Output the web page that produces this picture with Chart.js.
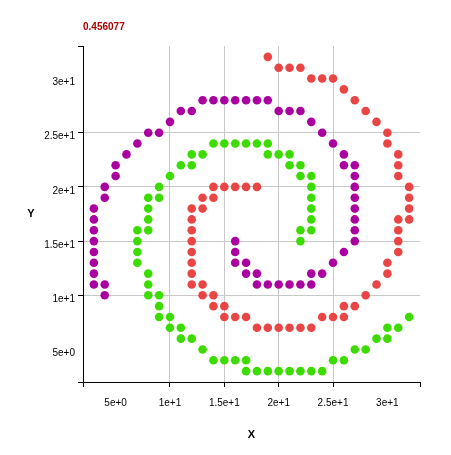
<!DOCTYPE html>
<html>
<head>
<meta charset="utf-8">
<style>
  html, body { margin: 0; padding: 0; background: #ffffff; }
  #wrap { width: 451px; height: 455px; }
</style>
<script src="https://cdn.jsdelivr.net/npm/chart.js@4/dist/chart.umd.min.js"></script>
</head>
<body>
<div id="wrap"><canvas id="c" width="451" height="455"></canvas></div>
<script>
const chartTitle = '0.456077';
const xTitle = 'X';
const yTitle = 'Y';

const tickValues = [2, 5, 10, 15, 20, 25, 30, 33];
const gridValues = [10, 15, 20, 25];
const labelValues = [5, 10, 15, 20, 25, 30];

const purpleX = [4,4,3,3,3,3,3,3,3,3,4,4,5,5,6,7,8,9,10,11,12,13,14,15,16,17,18,19,20,21,22,23,24,25,26,26,27,27,27,27,27,27,27,27,26,25,24,23,23,22,21,20,19,18,18,17,17,16,16,16];
const purpleY = [10,11,11,12,13,14,15,16,17,18,19,20,21,22,23,24,25,25,26,27,27,28,28,28,28,28,28,28,27,27,27,26,25,24,23,22,22,21,20,19,18,17,16,15,14,13,12,12,11,11,11,11,11,11,12,12,13,13,14,15];

const greenX = [22,22,23,23,23,23,23,23,22,22,21,21,20,19,19,18,17,16,15,14,13,12,12,11,10,9,9,8,8,8,8,7,7,7,7,8,8,8,9,9,9,10,10,11,11,12,13,14,15,16,17,17,18,19,20,21,22,23,24,25,26,27,28,29,30,30,31,32];
const greenY = [15,16,16,17,18,19,20,21,21,22,22,23,23,23,24,24,24,24,24,24,23,23,22,22,21,20,19,19,18,17,16,16,15,14,13,12,11,10,10,9,8,8,7,7,6,6,5,4,4,4,4,3,3,3,3,3,3,3,3,4,4,5,5,6,6,7,7,8];

const redX = [18,17,16,15,14,14,13,13,12,12,12,12,12,12,12,12,13,13,14,14,15,15,16,17,18,19,20,21,22,23,24,25,26,26,27,28,29,30,30,31,31,31,31,32,32,32,32,31,31,31,30,30,29,28,27,26,25,24,23,22,21,20,19];
const redY = [20,20,20,20,20,19,19,18,18,17,16,15,14,13,12,11,11,10,10,9,9,8,8,8,7,7,7,7,7,7,8,8,8,9,9,10,11,12,13,14,15,16,17,17,18,19,20,21,22,23,24,25,26,27,28,29,30,30,30,31,31,31,32];

function pts(xs, ys) { return xs.map((x, i) => ({ x: x, y: ys[i] })); }

const FONT = "'Liberation Sans', Arial, Helvetica, sans-serif";

const textPlugin = {
  id: 'texts',
  afterDraw(chart) {
    const ctx = chart.ctx;
    const a = chart.chartArea;
    ctx.save();
    ctx.font = 'bold 10px ' + FONT;
    ctx.fillStyle = '#aa0000';
    ctx.textAlign = 'left';
    ctx.textBaseline = 'middle';
    ctx.fillText(chartTitle, a.left, 27);
    ctx.fillStyle = '#000000';
    ctx.textAlign = 'center';
    ctx.font = 'bold 11px ' + FONT;
    ctx.fillText(xTitle, (a.left + a.right) / 2, 435);
    ctx.fillText(yTitle, 31, (a.top + a.bottom) / 2);
    ctx.restore();
  }
};

function axisOpts(isY) {
  return {
    type: 'linear',
    min: 2,
    max: 33,
    afterBuildTicks(scale) {
      scale.ticks = tickValues.map(v => ({ value: v }));
    },
    afterFit(scale) {
      if (isY) scale.width = 83; else scale.height = 73;
    },
    border: { display: true, color: '#000000', width: 1 },
    grid: {
      drawOnChartArea: true,
      drawTicks: true,
      tickLength: 5,
      lineWidth: 1,
      color: (c) => (c.tick && gridValues.includes(c.tick.value)) ? '#c8c8c8' : 'rgba(0,0,0,0)',
      tickColor: (c) => (c.tick && (c.tick.value === 5 || c.tick.value === 30)) ? 'rgba(0,0,0,0)' : '#000000'
    },
    ticks: {
      autoSkip: false,
      maxRotation: 0,
      minRotation: 0,
      color: '#000000',
      font: { family: FONT, size: 10 },
      padding: isY ? 3 : 10,
      labelOffset: isY ? 4 : 0,
      callback: (v) => labelValues.includes(v) ? Number(v).toExponential() : ''
    }
  };
}

const ds = (label, xs, ys, color) => ({
  label: label,
  data: pts(xs, ys),
  backgroundColor: color,
  borderColor: color,
  borderWidth: 0,
  pointRadius: 4.3,
  pointHoverRadius: 4.3,
  showLine: false
});

new Chart(document.getElementById('c'), {
  type: 'scatter',
  data: {
    datasets: [
      ds('purple', purpleX, purpleY, '#a9009f'),
      ds('green', greenX, greenY, '#3cdc00'),
      ds('red', redX, redY, '#ea4545')
    ]
  },
  options: {
    responsive: false,
    animation: false,
    devicePixelRatio: 1,
    layout: { padding: { left: 0, top: 46, right: 31, bottom: 0 } },
    plugins: {
      legend: { display: false },
      title: { display: false },
      tooltip: { enabled: false }
    },
    scales: {
      x: axisOpts(false),
      y: axisOpts(true)
    }
  },
  plugins: [textPlugin]
});
</script>
</body>
</html>
